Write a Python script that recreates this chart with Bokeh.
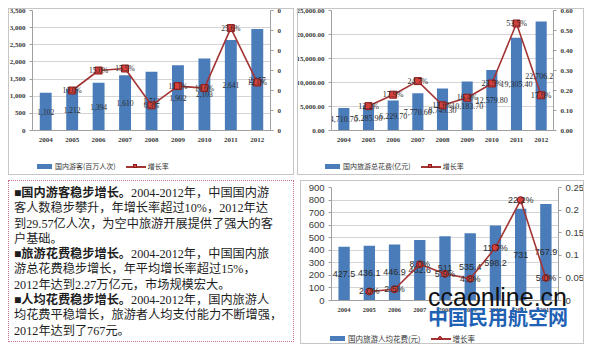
from bokeh.plotting import figure
from bokeh.models import (Range1d, FactorRange, LinearAxis, FixedTicker,
                          NumeralTickFormatter, Div)
from bokeh.layouts import row, column
from bokeh.embed import file_html
from bokeh.resources import INLINE
from bokeh.core.properties import value

# ---------------- data ----------------
years = ["2004", "2005", "2006", "2007", "2008", "2009", "2010", "2011", "2012"]
growth_years = ["2005", "2006", "2007", "2008", "2009", "2010", "2011", "2012"]

tourists = [1102, 1212, 1394, 1610, 1712, 1902, 2103, 2641, 2957]          # 百万人次
tourists_growth = [0.100, 0.150, 0.155, 0.063, 0.111, 0.106, 0.256, 0.120]

spending = [4710.7, 5285.9, 6229.7, 7770.6, 8749.3, 10183.7, 12579.8, 19305.4, 22706.2]  # 亿元
spending_growth = [0.122, 0.179, 0.247, 0.126, 0.164, 0.235, 0.535, 0.176]

per_capita = [427.5, 436.1, 446.9, 482.6, 511.0, 535.4, 598.2, 731.0, 767.9]  # 元
per_capita_growth = [0.020, 0.025, 0.080, 0.059, 0.048, 0.117, 0.222, 0.050]

tl_left_ticks = [0, 500, 1000, 1500, 2000, 2500, 3000, 3500]
tl_right_ticks = [0, 0.05, 0.10, 0.15, 0.20, 0.25, 0.30]
tr_left_ticks = [0, 5000, 10000, 15000, 20000, 25000]
tr_right_ticks = [0, 0.1, 0.2, 0.3, 0.4, 0.5, 0.6]
br_left_ticks = [0, 100, 200, 300, 400, 500, 600, 700, 800, 900]
br_right_ticks = [0, 0.05, 0.10, 0.15, 0.20, 0.25]

BAR = "#4a7cba"
LINE = "#a33434"
MARK = "#d8403c"
MARK_EDGE = "#8a1c1c"


def chart(width, height, borders, vals, rates, ymax, yticks, rmax, rticks,
          lfmt, rfmt, bar_text, tick_font, tick_size, tick_style,
          x_size, lab_font, lab_size, marker):
    bl, br, bt, bb = borders
    p = figure(width=width, height=height, x_range=FactorRange(*years),
               y_range=Range1d(0, ymax), output_backend="svg",
               toolbar_location=None, min_border_left=bl, min_border_right=br,
               min_border_top=bt, min_border_bottom=bb,
               background_fill_color="white", border_fill_color="white",
               outline_line_color=None)
    p.extra_y_ranges = {"rate": Range1d(0, rmax)}

    p.vbar(x=years, top=vals, width=0.45, fill_color=BAR, line_color=None)
    p.text(x=years, y=[v / 2 for v in vals], text=bar_text,
           text_align="center", text_baseline="middle",
           text_font=value(lab_font), text_font_size=lab_size, text_color="#2b2b2b")
    p.line(x=growth_years, y=rates, y_range_name="rate",
           line_color=LINE, line_width=1.6)
    p.scatter(x=growth_years, y=rates, y_range_name="rate", marker=marker,
              size=7, fill_color=MARK, line_color=MARK_EDGE, line_width=1)
    p.text(x=growth_years, y=rates, y_range_name="rate",
           text=[f"{r * 100:.1f}%" for r in rates],
           text_align="center", text_baseline="middle",
           text_font=value(lab_font), text_font_size=lab_size, text_color="#2b2b2b")

    p.yaxis.ticker = FixedTicker(ticks=yticks)
    p.yaxis.formatter = NumeralTickFormatter(format=lfmt)
    rax = LinearAxis(y_range_name="rate", ticker=FixedTicker(ticks=rticks),
                     formatter=NumeralTickFormatter(format=rfmt))
    p.add_layout(rax, "right")

    p.xgrid.grid_line_color = None
    p.ygrid.grid_line_color = "#d4d4d4"
    p.ygrid.ticker = FixedTicker(ticks=yticks)
    for ax in p.axis:
        ax.axis_line_color = "#a0a0a0"
        ax.major_tick_line_color = "#a0a0a0"
        ax.major_tick_out = 3
        ax.major_tick_in = 0
        ax.minor_tick_line_color = None
        ax.major_label_text_font = tick_font
        ax.major_label_text_font_size = tick_size
        ax.major_label_text_font_style = tick_style
        ax.major_label_text_color = "#3a3a3a"
        ax.major_label_standoff = 4
    p.xaxis.major_label_text_font = "Liberation Serif"
    p.xaxis.major_label_text_font_style = "bold"
    p.xaxis.major_label_text_font_size = x_size
    p.xaxis.major_tick_line_color = None
    return p


p1 = chart(292, 172, (32, 22, 10, 42), tourists, tourists_growth, 3500, tl_left_ticks,
           0.30, tl_right_ticks, "0,0", "0", [f"{v:,}" for v in tourists],
           "Liberation Serif", "7px", "bold", "7px", "Liberation Serif", "7.5px", "square")

p2 = chart(292, 172, (39, 31, 10, 41), spending, spending_growth, 25000, tr_left_ticks,
           0.60, tr_right_ticks, "0,0.00", "0.00", [f"{v:,.2f}" for v in spending],
           "Liberation Serif", "7px", "bold", "7px", "Liberation Serif", "8px", "square")

p3 = chart(292, 170, (29, 36, 15, 42), per_capita, per_capita_growth, 900, br_left_ticks,
           0.25, br_right_ticks, "0", "0.[00]", [f"{v:g}" for v in per_capita],
           "Liberation Sans", "9.5px", "normal", "6.5px", "Liberation Sans", "9px", "circle")


def overlay(html, w, h, left, top, z=20, extra=None):
    st = {"position": "absolute", "left": f"{left}px", "top": f"{top}px",
          "z-index": str(z), "pointer-events": "none"}
    if extra:
        st.update(extra)
    return Div(text=html, width=w, height=h, styles=st)


def legend_html(name, font_px, round_marker):
    radius = "border-radius:50%;" if round_marker else ""
    return ("<div style=\"display:flex;justify-content:center;align-items:center;height:12px;"
            f"font-family:'Noto Sans CJK SC',sans-serif;font-size:{font_px}px;color:#333;"
            "white-space:nowrap;line-height:1;\">"
            f"<span style=\"display:inline-block;width:15px;height:5px;background:{BAR};"
            "margin-right:3px;\"></span>"
            f"<span>{name}</span>"
            "<span style=\"display:inline-block;position:relative;width:20px;height:6px;"
            "margin:0 2px 0 10px;\">"
            f"<span style=\"position:absolute;left:0;width:20px;top:2px;height:2px;background:{LINE};\"></span>"
            f"<span style=\"position:absolute;left:7px;top:0;width:4px;height:4px;{radius}"
            f"background:{MARK};border:1px solid {MARK_EDGE};\"></span>"
            "</span><span>增长率</span></div>")


leg1 = overlay(legend_html("国内游客(百万人次)", 7, False), 238, 12, 32, 152)
leg2 = overlay(legend_html("国内旅游总花费(亿元)", 7, False), 230, 12, 320, 152)
leg3 = overlay(legend_html("国内旅游人均花费(元)", 7.5, True), 230, 12, 325, 324)

frame_style = {"border": "1px solid #c6c6c6", "box-sizing": "border-box"}
fr1 = overlay("", 286, 167, 3, 3, z=5, extra=frame_style)
fr2 = overlay("", 287, 167, 292, 3, z=5, extra=frame_style)
fr3 = overlay("", 284, 164, 295, 175, z=5, extra=frame_style)

lines = [
    "<b>■国内游客稳步增长。</b>2004-2012年，中国国内游",
    "客人数稳步攀升，年增长率超过10%，2012年达",
    "到29.57亿人次，为空中旅游开展提供了强大的客",
    "户基础。",
    "<b>■旅游花费稳步增长。</b>2004-2012年，中国国内旅",
    "游总花费稳步增长，年平均增长率超过15%，",
    "2012年达到2.27万亿元，市场规模宏大。",
    "<b>■人均花费稳步增长。</b>2004-2012年，国内旅游人",
    "均花费平稳增长，旅游者人均支付能力不断增强，",
    "2012年达到了767元。",
]
html = ("<div style=\"box-sizing:border-box;margin:3px 0 0 3px;width:286px;height:162px;"
        "border:1px dotted #c8708a;padding:5px 0 0 5px;"
        "font-family:'Liberation Serif','Noto Sans CJK SC',serif;font-size:12.2px;"
        "line-height:15.3px;color:#1e1e1e;white-space:nowrap;overflow:hidden;\">"
        + "<br>".join(lines) + "</div>")
box = Div(text=html, width=292, height=170)

# watermark overlay (site name printed over the lower-right chart)
wm_html = ("<div style=\"line-height:1;white-space:nowrap;\">"
           "<div style=\"font-family:'Liberation Sans',sans-serif;font-size:25px;"
           "color:#111111;height:25px;\">ccaonline.cn</div>"
           "<div style=\"font-family:'Noto Sans CJK SC',sans-serif;font-size:20px;"
           "font-weight:bold;color:#1f62b4;margin-top:-3px;height:22px;\">中国民用航空网</div>"
           "</div>")
wm = overlay(wm_html, 150, 48, 423, 280)

layout = column(row(p1, p2), row(box, p3), fr1, fr2, fr3, leg1, leg2, leg3, wm)
open("out.html", "w").write(file_html(layout, INLINE))
